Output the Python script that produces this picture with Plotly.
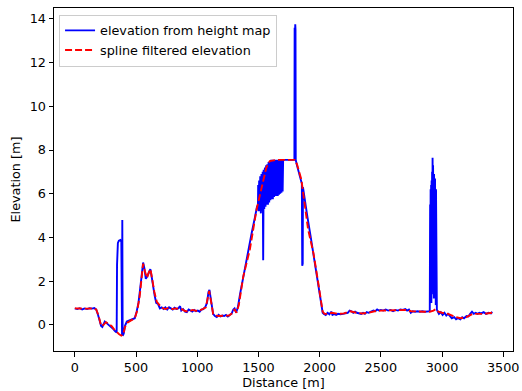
import plotly.graph_objects as go

# ---- data ----
dist_map = [0, 20, 40, 60, 80, 100, 120, 140, 160, 175, 190, 205, 215, 225, 235, 245, 255, 265, 280, 300,
            315, 330, 342, 345, 347, 352, 360, 372, 380, 383, 386, 388, 391, 400, 410, 425, 445, 465, 490, 505,
            520, 535, 548, 558, 568, 580, 590, 605, 617, 628, 640, 652, 665, 680, 695, 710, 725, 740, 755, 770,
            785, 800, 815, 830, 845, 860, 870, 885, 900, 915, 930, 945, 960, 975, 990, 1005, 1020, 1035, 1050, 1065,
            1080, 1092, 1100, 1108, 1118, 1130, 1145, 1160, 1175, 1190, 1205, 1220, 1235, 1250, 1265, 1280, 1295, 1305, 1318, 1332,
            1350, 1376, 1400, 1420, 1445, 1471, 1490, 1496, 1498, 1502, 1506, 1510, 1515, 1520, 1525, 1530, 1535, 1539, 1543, 1548,
            1553, 1558, 1563, 1568, 1573, 1578, 1583, 1588, 1593, 1598, 1603, 1608, 1613, 1618, 1623, 1628, 1633, 1638, 1643, 1648,
            1653, 1658, 1663, 1668, 1673, 1678, 1683, 1688, 1693, 1698, 1702, 1720, 1740, 1760, 1780, 1794, 1796, 1799, 1801, 1803,
            1805, 1815, 1830, 1845, 1855, 1858, 1862, 1864, 1875, 1900, 1925, 1950, 1975, 1995, 2010, 2025, 2035, 2050, 2065, 2080,
            2095, 2105, 2120, 2135, 2150, 2170, 2190, 2210, 2230, 2245, 2260, 2275, 2290, 2305, 2320, 2340, 2355, 2370, 2385, 2400,
            2420, 2440, 2455, 2470, 2485, 2500, 2520, 2540, 2560, 2580, 2600, 2620, 2640, 2660, 2680, 2700, 2715, 2730, 2745, 2760,
            2780, 2800, 2820, 2840, 2860, 2880, 2900,
            2903, 2905, 2907, 2909, 2911, 2913, 2915, 2917, 2919, 2921, 2923, 2925, 2927, 2929, 2931, 2933, 2935, 2937, 2939, 2941,
            2943, 2945, 2947, 2949, 2951, 2953,
            2958, 2965, 2975, 2990, 3005, 3020, 3035, 3050, 3065, 3080, 3100, 3115, 3130, 3150, 3165, 3180,
            3200, 3215, 3230, 3245, 3260, 3275, 3290, 3305, 3320, 3340, 3360, 3380, 3400, 3410]
elev_map = [0.75, 0.72, 0.76, 0.70, 0.75, 0.72, 0.76, 0.74, 0.77, 0.70, 0.45, 0.20, -0.05, -0.10, 0.05, 0.15, 0.10, 0.05, 0.02, -0.10,
            -0.20, -0.30, -0.35, 2.75, 3.65, 3.75, 3.85, 3.88, 3.80, -0.45, -0.48, 4.80, -0.50, -0.40, -0.05, 0.15, 0.20, 0.25, 0.30, 0.60,
            1.00, 1.70, 2.40, 2.85, 2.60, 2.10, 2.20, 2.45, 2.55, 2.20, 1.70, 1.35, 1.00, 0.95, 0.75, 0.80, 0.72, 0.80, 0.70, 0.80,
            0.75, 0.70, 0.78, 0.72, 0.75, 0.85, 0.65, 0.72, 0.60, 0.58, 0.70, 0.65, 0.60, 0.68, 0.62, 0.65, 0.60, 0.70, 0.72, 0.80,
            1.00, 1.50, 1.60, 1.30, 0.80, 0.50, 0.40, 0.35, 0.45, 0.38, 0.42, 0.40, 0.45, 0.38, 0.45, 0.50, 0.70, 0.75, 0.55, 0.80,
            1.40, 2.20, 3.00, 3.55, 4.20, 4.90, 5.45, 5.30, 6.40, 5.20, 6.60, 5.20, 6.80, 5.10, 6.90, 5.20, 7.00, 2.95, 7.10, 5.30,
            7.20, 5.40, 7.30, 5.50, 7.35, 5.50, 7.45, 5.60, 7.50, 5.70, 7.55, 5.75, 7.55, 5.75, 7.55, 5.85, 7.55, 5.90, 7.55, 5.90,
            7.55, 5.90, 7.55, 5.95, 7.55, 6.00, 7.55, 6.05, 7.55, 6.10, 7.55, 7.55, 7.55, 7.55, 7.55, 7.55, 13.60, 13.20, 13.75, 13.50,
            7.55, 7.30, 7.00, 6.70, 6.45, 2.70, 2.80, 6.30, 5.85, 4.95, 4.10, 3.25, 2.40, 1.70, 1.10, 0.55, 0.50, 0.45, 0.55, 0.48,
            0.60, 0.45, 0.50, 0.45, 0.50, 0.48, 0.50, 0.52, 0.55, 0.65, 0.62, 0.55, 0.60, 0.55, 0.52, 0.50, 0.55, 0.50, 0.58, 0.55,
            0.60, 0.65, 0.62, 0.70, 0.65, 0.68, 0.65, 0.70, 0.65, 0.68, 0.62, 0.68, 0.65, 0.70, 0.68, 0.72, 0.65, 0.70, 0.55, 0.62,
            0.60, 0.62, 0.60, 0.62, 0.60, 0.60, 0.62,
            5.50, 1.20, 6.20, 1.50, 6.40, 1.00, 6.60, 1.40, 7.00, 1.60, 7.65, 1.80, 7.30, 1.50, 7.10, 1.20, 6.90, 1.80, 6.80, 1.40,
            6.70, 1.00, 6.50, 0.90, 6.20, 0.80,
            0.70, 0.60, 0.50, 0.58, 0.45, 0.55, 0.42, 0.50, 0.40, 0.30, 0.35, 0.25, 0.30, 0.25, 0.35, 0.30,
            0.40, 0.38, 0.50, 0.60, 0.50, 0.55, 0.50, 0.55, 0.52, 0.58, 0.50, 0.55, 0.52, 0.60]

dist_spline = [0, 50, 100, 150, 175, 195, 215, 235, 255, 275, 300, 320, 340, 360, 380, 395, 410, 430, 460, 490,
               510, 530, 545, 558, 575, 590, 605, 618, 632, 650, 670, 690, 710, 740, 770, 800, 830, 860, 880, 900,
               930, 960, 1000, 1040, 1070, 1085, 1098, 1112, 1130, 1150, 1180, 1220, 1260, 1290, 1305, 1320, 1340, 1376, 1430, 1485,
               1539, 1565, 1593, 1650, 1700, 1750, 1797, 1815, 1835, 1851, 1906, 1950, 1985, 2010, 2025, 2040, 2060, 2100, 2150, 2200,
               2250, 2300, 2350, 2400, 2450, 2500, 2550, 2600, 2650, 2700, 2750, 2800, 2850, 2900, 2930, 2950, 2970, 3000, 3050, 3100,
               3150, 3200, 3250, 3300, 3350, 3410]
elev_spline = [0.75, 0.73, 0.74, 0.75, 0.70, 0.40, -0.05, 0.00, 0.12, 0.05, -0.05, -0.20, -0.33, -0.42, -0.50, -0.45, -0.10, 0.10, 0.20, 0.30,
               0.65, 1.30, 2.10, 2.80, 2.40, 2.15, 2.40, 2.55, 2.10, 1.50, 1.05, 0.90, 0.78, 0.72, 0.78, 0.72, 0.75, 0.72, 0.70, 0.63,
               0.60, 0.68, 0.63, 0.70, 0.80, 1.20, 1.55, 1.10, 0.50, 0.42, 0.40, 0.42, 0.42, 0.55, 0.72, 0.55, 0.90, 2.20, 3.44, 5.28,
               6.65, 7.20, 7.49, 7.55, 7.55, 7.55, 7.55, 7.35, 7.00, 6.65, 4.36, 3.27, 2.06, 1.15, 0.60, 0.50, 0.50, 0.55, 0.50, 0.52,
               0.62, 0.55, 0.52, 0.55, 0.62, 0.65, 0.66, 0.65, 0.66, 0.68, 0.62, 0.60, 0.60, 0.60, 0.65, 0.72, 0.60, 0.55, 0.50, 0.38,
               0.30, 0.35, 0.50, 0.50, 0.50, 0.55]

x_ticks = [0, 500, 1000, 1500, 2000, 2500, 3000, 3500]
y_ticks = [0, 2, 4, 6, 8, 10, 12, 14]

FONT = "DejaVu Sans"
FS = 12.8

fig = go.Figure()
fig.add_trace(go.Scatter(x=dist_map, y=elev_map, mode="lines", name="elevation from height map",
                         line=dict(color="#0000ff", width=1.9)))
fig.add_trace(go.Scatter(x=dist_spline, y=elev_spline, mode="lines", name="spline filtered elevation",
                         line=dict(color="#ff0000", width=1.9, dash="7px,3px")))

axis_common = dict(showgrid=False, zeroline=False, showline=True, linecolor="black", linewidth=1,
                   mirror=True, ticks="outside", ticklen=4.5, tickwidth=1, tickcolor="black",
                   automargin=False,
                   tickfont=dict(family=FONT, size=FS, color="black"))

fig.update_layout(
    width=522, height=391,
    margin=dict(l=54, r=9, t=8, b=40, autoexpand=False),
    paper_bgcolor="white", plot_bgcolor="white",
    font=dict(family=FONT, size=FS, color="black"),
    xaxis=dict(range=[-170, 3580], tickvals=x_ticks, ticktext=[str(v) for v in x_ticks],
               title=dict(text="Distance [m]", standoff=4, font=dict(family=FONT, size=FS)), **axis_common),
    yaxis=dict(range=[-1.2, 14.5], tickvals=y_ticks, ticktext=[str(v) for v in y_ticks],
               title=dict(text="Elevation [m]", standoff=6, font=dict(family=FONT, size=FS)), **axis_common),
    legend=dict(x=0.011, y=0.981, xanchor="left", yanchor="top", bgcolor="rgba(255,255,255,0.8)",
                bordercolor="#cccccc", borderwidth=1, font=dict(family=FONT, size=FS),
                tracegroupgap=0, itemwidth=30),
    showlegend=True,
)

fig.write_html("out.html", config={"displayModeBar": False},
               post_script="document.body.style.margin='0';document.body.style.overflow='hidden';")
